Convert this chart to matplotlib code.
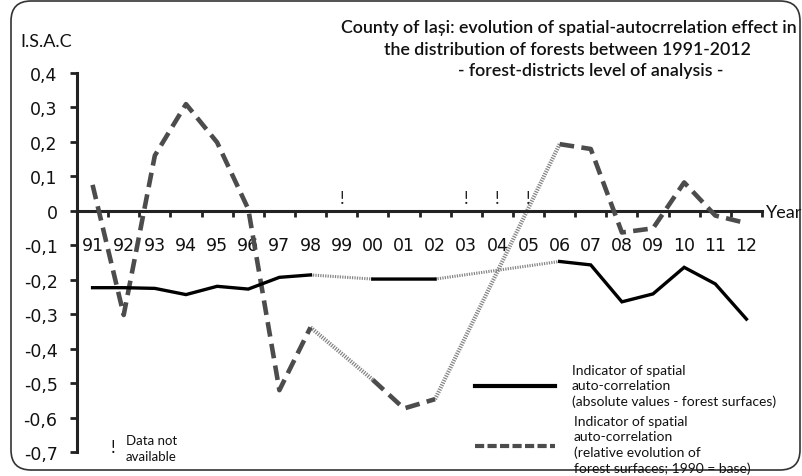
import numpy as np
import matplotlib
matplotlib.use("Agg")
import matplotlib.pyplot as plt
from matplotlib.patches import FancyBboxPatch
from matplotlib.lines import Line2D

# date
ani = ['91', '92', '93', '94', '95', '96', '97', '98', '99', '00', '01',
       '02', '03', '04', '05', '06', '07', '08', '09', '10', '11', '12']
nan = np.nan
isac_absolut = [-0.223, -0.223, -0.225, -0.243, -0.219, -0.227, -0.193, -0.186, nan,
                -0.198, -0.198, -0.198, nan, nan, nan,
                -0.147, -0.157, -0.264, -0.241, -0.164, -0.212, -0.314]
isac_relativ = [0.075, -0.302, 0.16, 0.309, 0.198, 0.005, -0.52, -0.338, nan,
                -0.49, -0.573, -0.546, nan, nan, nan,
                0.193, 0.179, -0.063, -0.051, 0.082, -0.014, -0.036]
valori_y = [0.4, 0.3, 0.2, 0.1, 0, -0.1, -0.2, -0.3, -0.4, -0.5, -0.6, -0.7]

titlu = ["County of Iași: evolution of spatial-autocrrelation effect in",
         "the distribution of forests between 1991-2012",
         "- forest-districts level of analysis -"]
legenda_1 = "Indicator of spatial\nauto-correlation\n(absolute values - forest surfaces)"
legenda_2 = "Indicator of spatial\nauto-correlation\n(relative evolution of\nforest surfaces; 1990 = base)"

FONT_TEXT = ['Lato', 'DejaVu Sans']
GRI = '#4c4c4c'
GRI_PUNCTAT = '#858585'


def punti_lipsa(valori):
    # leaga ultimul punct valid de urmatorul peste golurile din date
    perechi = []
    ultim = None
    for i, v in enumerate(valori):
        if np.isnan(v):
            continue
        if ultim is not None and i - ultim > 1:
            perechi.append(([ultim + 0.5, i + 0.5], [valori[ultim], v]))
        ultim = i
    return perechi


fig = plt.figure(figsize=(8.02, 4.77), dpi=100)
ax = fig.add_axes([77 / 802, 1 - 453.3 / 477, (762 - 77) / 802, (453.3 - 73.7) / 477])

x = np.arange(len(ani)) + 0.5
y_abs = np.array(isac_absolut)
y_rel = np.array(isac_relativ)

for xs, ys in punti_lipsa(y_abs):
    ax.plot(xs, ys, color=GRI_PUNCTAT, lw=2.2, linestyle=(0, (0.4, 0.4)), zorder=2)
for xs, ys in punti_lipsa(y_rel):
    ax.plot(xs, ys, color=GRI_PUNCTAT, lw=3.0, linestyle=(0, (0.3, 0.3)), zorder=2)

ax.plot(x, y_abs, color='black', lw=2.4, zorder=4, solid_joinstyle='miter')
ax.plot(x, y_rel, color=GRI, lw=3.3, linestyle=(0, (3.2, 1.6)), zorder=3,
        dash_capstyle='butt')

# semne "!" pentru anii fara date
for i, v in enumerate(y_abs):
    if np.isnan(v):
        ax.text(x[i], 0.015, '!', ha='center', va='bottom', fontsize=12.5,
                family=FONT_TEXT, color='#222222')

ax.set_xlim(0, len(ani))
ax.set_ylim(-0.7, 0.4)

for s in ['top', 'right']:
    ax.spines[s].set_visible(False)
ax.spines['left'].set_linewidth(2.2)
ax.spines['left'].set_color('#222222')
ax.spines['bottom'].set_position(('data', 0))
ax.spines['bottom'].set_linewidth(2.2)
ax.spines['bottom'].set_color('#222222')

ax.set_xticks(np.arange(0, len(ani) + 1))
ax.set_xticklabels([])
ax.set_xticks(x, minor=True)
ax.set_xticklabels(ani, minor=True)
ax.tick_params(axis='x', which='major', direction='out', length=4.5, width=2,
               color='#222222')
ax.tick_params(axis='x', which='minor', length=0, pad=18, labelsize=12.5,
               labelcolor='#111111')

ax.set_yticks(valori_y)
ax.set_yticklabels([('%g' % v).replace('.', ',') for v in valori_y])
ax.tick_params(axis='y', direction='out', length=5, width=2, pad=9,
               labelsize=12.5, color='#222222', labelcolor='#111111')

fig.text(20 / 802, 1 - 42 / 477, 'I.S.A.C', family=FONT_TEXT, fontsize=13,
         va='center', ha='left', color='#111111')
fig.text(766 / 802, 1 - 213 / 477, 'Year', family=FONT_TEXT, fontsize=13,
         va='center', ha='left', color='#111111')

centre_titlu = [569, 567, 591]
y_titlu = [28, 50, 71]
for t, cx, cy in zip(titlu, centre_titlu, y_titlu):
    fig.text(cx / 802, 1 - cy / 477, t, family=FONT_TEXT, fontsize=12.8,
             fontweight='semibold', ha='center', va='center', color='#111111')

# legenda desenata manual
fig.add_artist(Line2D([475 / 802, 555 / 802], [1 - 386.7 / 477] * 2,
                      color='black', lw=3))
fig.add_artist(Line2D([475 / 802, 555 / 802], [1 - 446.7 / 477] * 2,
                      color=GRI, lw=3, linestyle=(0, (2.2, 0.8))))
fig.text(572 / 802, 1 - 386.5 / 477, legenda_1, family=FONT_TEXT, fontsize=10,
         va='center', ha='left', linespacing=1.3, color='#111111')
fig.text(574 / 802, 1 - 445.5 / 477, legenda_2, family=FONT_TEXT, fontsize=10,
         va='center', ha='left', linespacing=1.3, color='#111111')

fig.text(113 / 802, 1 - 448 / 477, '!', family=FONT_TEXT, fontsize=12.5,
         va='center', ha='center', color='#111111')
fig.text(126 / 802, 1 - 449 / 477, 'Data not\navailable', family=FONT_TEXT,
         fontsize=9.5, va='center', ha='left', linespacing=1.4, color='#111111')

# chenar rotunjit
chenar = FancyBboxPatch((11 / 802, 6 / 477), 789 / 802, 469 / 477,
                        boxstyle='round,pad=0,rounding_size=0.025',
                        transform=fig.transFigure, fill=False,
                        edgecolor='#333333', lw=1.2, mutation_aspect=802 / 477)
fig.add_artist(chenar)

fig.savefig('out.png', dpi=100)
